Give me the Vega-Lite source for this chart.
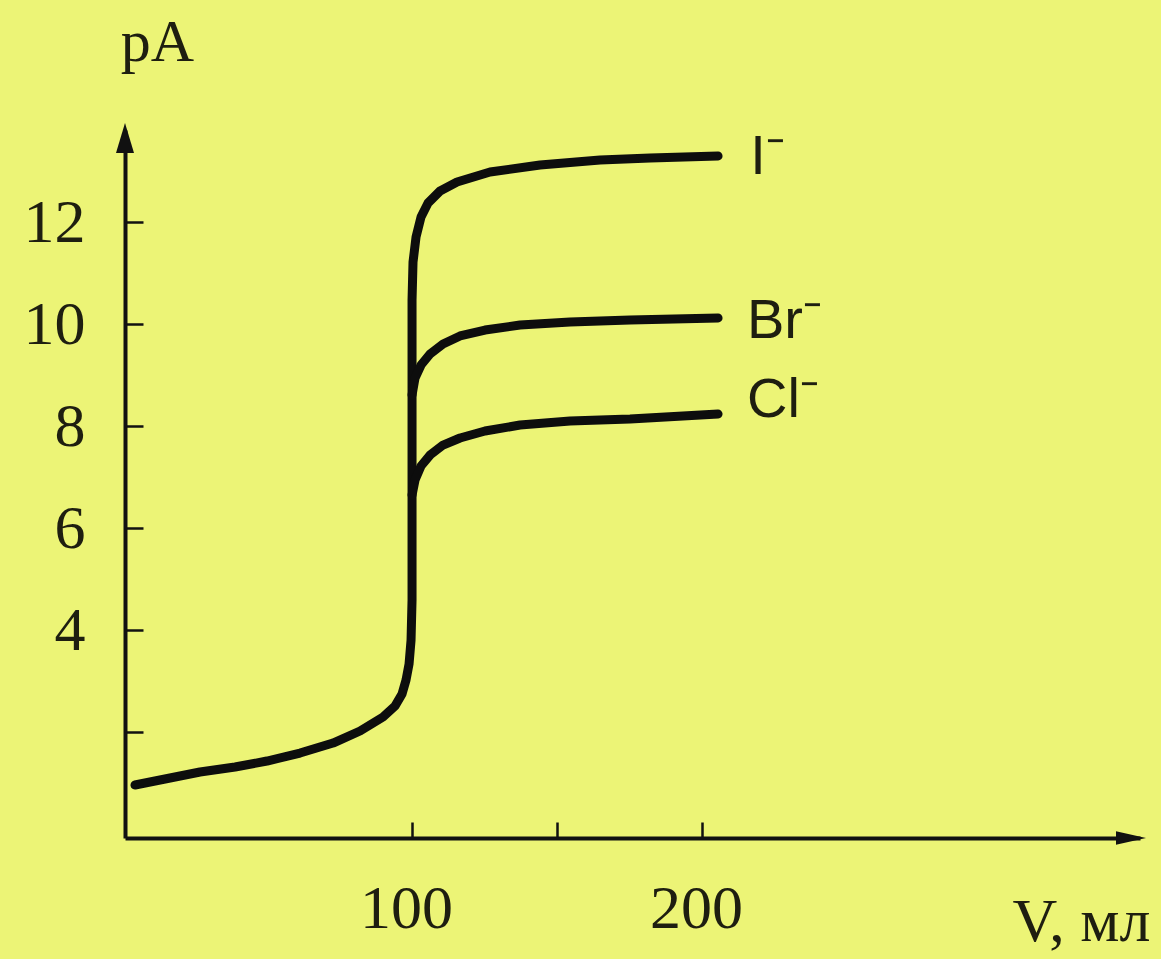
{
  "$schema": "https://vega.github.io/schema/vega-lite/v6.json",
  "width": 1015,
  "height": 708,
  "autosize": {"type": "none"},
  "padding": {"left": 125, "top": 130, "right": 21, "bottom": 121},
  "background": "#ECF476",
  "config": {"view": {"stroke": null}, "font": "Liberation Serif"},
  "datasets": {
    "curves": [
      {"series": "I", "i": 1, "v": 4.48, "pA": 0.961},
      {"series": "I", "i": 2, "v": 16.55, "pA": 1.098},
      {"series": "I", "i": 3, "v": 26.9, "pA": 1.216},
      {"series": "I", "i": 4, "v": 38.97, "pA": 1.314},
      {"series": "I", "i": 5, "v": 50.0, "pA": 1.431},
      {"series": "I", "i": 6, "v": 61.38, "pA": 1.588},
      {"series": "I", "i": 7, "v": 72.76, "pA": 1.784},
      {"series": "I", "i": 8, "v": 82.07, "pA": 2.02},
      {"series": "I", "i": 9, "v": 90.0, "pA": 2.294},
      {"series": "I", "i": 10, "v": 94.14, "pA": 2.51},
      {"series": "I", "i": 11, "v": 96.55, "pA": 2.745},
      {"series": "I", "i": 12, "v": 97.93, "pA": 3.02},
      {"series": "I", "i": 13, "v": 98.97, "pA": 3.333},
      {"series": "I", "i": 14, "v": 99.66, "pA": 3.804},
      {"series": "I", "i": 15, "v": 100.0, "pA": 4.588},
      {"series": "I", "i": 16, "v": 100.0, "pA": 5.765},
      {"series": "I", "i": 17, "v": 100.0, "pA": 6.941},
      {"series": "I", "i": 18, "v": 100.0, "pA": 8.118},
      {"series": "I", "i": 19, "v": 100.0, "pA": 9.294},
      {"series": "I", "i": 20, "v": 100.0, "pA": 10.471},
      {"series": "I", "i": 21, "v": 100.34, "pA": 11.216},
      {"series": "I", "i": 22, "v": 101.38, "pA": 11.706},
      {"series": "I", "i": 23, "v": 103.1, "pA": 12.098},
      {"series": "I", "i": 24, "v": 105.52, "pA": 12.373},
      {"series": "I", "i": 25, "v": 109.66, "pA": 12.608},
      {"series": "I", "i": 26, "v": 115.52, "pA": 12.784},
      {"series": "I", "i": 27, "v": 126.9, "pA": 12.98},
      {"series": "I", "i": 28, "v": 144.14, "pA": 13.118},
      {"series": "I", "i": 29, "v": 164.83, "pA": 13.216},
      {"series": "I", "i": 30, "v": 182.07, "pA": 13.255},
      {"series": "I", "i": 31, "v": 205.52, "pA": 13.294},
      {"series": "Br", "i": 1, "v": 100.0, "pA": 8.608},
      {"series": "Br", "i": 2, "v": 101.03, "pA": 8.941},
      {"series": "Br", "i": 3, "v": 103.1, "pA": 9.196},
      {"series": "Br", "i": 4, "v": 106.21, "pA": 9.412},
      {"series": "Br", "i": 5, "v": 110.69, "pA": 9.608},
      {"series": "Br", "i": 6, "v": 116.55, "pA": 9.765},
      {"series": "Br", "i": 7, "v": 125.17, "pA": 9.882},
      {"series": "Br", "i": 8, "v": 137.24, "pA": 9.98},
      {"series": "Br", "i": 9, "v": 154.48, "pA": 10.039},
      {"series": "Br", "i": 10, "v": 175.17, "pA": 10.078},
      {"series": "Br", "i": 11, "v": 205.52, "pA": 10.118},
      {"series": "Cl", "i": 1, "v": 100.0, "pA": 6.647},
      {"series": "Cl", "i": 2, "v": 101.03, "pA": 6.941},
      {"series": "Cl", "i": 3, "v": 103.1, "pA": 7.216},
      {"series": "Cl", "i": 4, "v": 106.21, "pA": 7.431},
      {"series": "Cl", "i": 5, "v": 110.69, "pA": 7.627},
      {"series": "Cl", "i": 6, "v": 116.55, "pA": 7.765},
      {"series": "Cl", "i": 7, "v": 125.17, "pA": 7.902},
      {"series": "Cl", "i": 8, "v": 137.24, "pA": 8.02},
      {"series": "Cl", "i": 9, "v": 154.48, "pA": 8.098},
      {"series": "Cl", "i": 10, "v": 175.17, "pA": 8.137},
      {"series": "Cl", "i": 11, "v": 205.52, "pA": 8.235}
    ],
    "labels": [
      {"v": 216.6, "pA": 13.27, "label": "I⁻"},
      {"v": 215.5, "pA": 10.06, "label": "Br⁻"},
      {"v": 215.5, "pA": 8.51, "label": "Cl⁻"}
    ],
    "yArrow": [{"v": 1.03, "pA": 13.647}],
    "xArrow": [{"v": 347.9, "pA": -0.078}]
  },
  "layer": [
    {
      "data": {"name": "curves"},
      "mark": {"type": "line", "color": "#0d0d0d", "strokeWidth": 9, "strokeCap": "round", "strokeJoin": "round"},
      "encoding": {
        "x": {
          "field": "v", "type": "quantitative",
          "scale": {"domain": [1.03, 351], "nice": false, "zero": false},
          "axis": {
            "values": [100, 150, 200],
            "labelExpr": "datum.value % 100 == 0 ? datum.label : ''",
            "grid": false,
            "domainColor": "#111111", "domainWidth": 4,
            "tickColor": "#111111", "tickWidth": 2.5, "tickSize": -16,
            "labelFont": "Liberation Serif", "labelFontSize": 62, "labelColor": "#1e1e10",
            "labelPadding": 56, "labelOffset": -6,
            "title": "V, мл", "titleFont": "Liberation Serif", "titleFontSize": 62, "titleFontWeight": "normal",
            "titleColor": "#1e1e10", "titleAlign": "right", "titleBaseline": "alphabetic",
            "titleX": 1025, "titleY": 102
          }
        },
        "y": {
          "field": "pA", "type": "quantitative",
          "scale": {"domain": [-0.078, 13.804], "nice": false, "zero": false},
          "axis": {
            "values": [2, 4, 6, 8, 10, 12],
            "labelExpr": "datum.value >= 4 ? datum.label : ''",
            "grid": false,
            "domainColor": "#111111", "domainWidth": 4,
            "tickColor": "#111111", "tickWidth": 2.5, "tickSize": -18,
            "labelFont": "Liberation Serif", "labelFontSize": 62, "labelColor": "#1e1e10",
            "labelPadding": 58,
            "title": "pA", "titleFont": "Liberation Serif", "titleFontSize": 60, "titleFontWeight": "normal",
            "titleColor": "#1e1e10", "titleAngle": 0, "titleAlign": "center", "titleBaseline": "alphabetic",
            "titleX": 32, "titleY": -70
          }
        },
        "detail": {"field": "series"},
        "order": {"field": "i", "type": "quantitative"}
      }
    },
    {
      "data": {"name": "labels"},
      "mark": {"type": "text", "align": "left", "baseline": "middle", "font": "Liberation Sans", "fontSize": 56, "color": "#1e1e10"},
      "encoding": {
        "x": {"field": "v", "type": "quantitative"},
        "y": {"field": "pA", "type": "quantitative"},
        "text": {"field": "label"}
      }
    },
    {
      "data": {"name": "yArrow"},
      "mark": {"type": "point", "shape": "M0,-1L0.6,1L-0.6,1Z", "filled": true, "color": "#111111", "size": 900, "opacity": 1},
      "encoding": {
        "x": {"field": "v", "type": "quantitative"},
        "y": {"field": "pA", "type": "quantitative"}
      }
    },
    {
      "data": {"name": "xArrow"},
      "mark": {"type": "point", "shape": "M1,0L-1,-0.45L-1,0.45Z", "filled": true, "color": "#111111", "size": 900, "opacity": 1},
      "encoding": {
        "x": {"field": "v", "type": "quantitative"},
        "y": {"field": "pA", "type": "quantitative"}
      }
    }
  ]
}
